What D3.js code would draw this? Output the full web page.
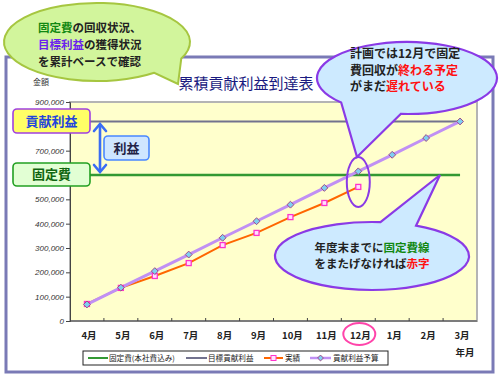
<!DOCTYPE html>
<html><head><meta charset="utf-8">
<script src="https://cdn.jsdelivr.net/npm/d3@7"></script>
<style>body{margin:0;background:#fff}svg{display:block}</style>
</head><body>
<script>
const months = ["4月","5月","6月","7月","8月","9月","10月","11月","12月","1月","2月","3月"];
const fixedCost = [600000,600000,600000,600000,600000,600000,600000,600000,600000,600000,600000,600000];
const targetProfit = [820000,820000,820000,820000,820000,820000,820000,820000,820000,820000,820000,820000];
const actual = [70000,136000,185000,238000,312000,362000,427000,485000,551000];
const budget = [68000,137000,205000,273000,342000,410000,478000,547000,615000,683000,752000,820000];
const yTicks = [0,100000,200000,300000,400000,500000,600000,700000,800000,900000];
const yTicksCovered = [600000,800000]; // labels hidden behind the annotation boxes in the original
const legendLabels = ["固定費(本社費込み)","目標貢献利益","実績","貢献利益予算"];

const W=500,H=382;
const JP = "'Noto Sans CJK JP','Noto Sans CJK SC',sans-serif";
const svg = d3.select("body").append("svg").attr("width",W).attr("height",H);

// outer frame
svg.append("rect").attr("x",6).attr("y",57).attr("width",487).attr("height",315)
  .attr("fill","#fff").attr("stroke","#7a7ab6").attr("stroke-width",3);

const x = d3.scaleBand().domain(months).range([70,477]).padding(0);
const cx = d => x(d)+x.bandwidth()/2;
const y = d3.scaleLinear().domain([0,900000]).range([321,102]);

// title
svg.append("text").attr("x",246).attr("y",89).attr("text-anchor","middle")
  .attr("font-family",JP).attr("font-size",15).attr("fill","#1a1a80").text("累積貢献利益到達表");
svg.append("text").attr("x",33).attr("y",85).attr("font-family",JP).attr("font-size",8).attr("fill","#333").text("金額");

// plot area
svg.append("rect").attr("x",70).attr("y",102).attr("width",407).attr("height",219)
  .attr("fill","#ffffcc").attr("stroke","#b4b4b4").attr("stroke-width",2);

// y axis
const ya = svg.append("g").attr("transform","translate(70,0)")
  .call(d3.axisLeft(y).tickValues(yTicks).tickSize(4)
    .tickFormat(d => yTicksCovered.includes(d) ? "" : d3.format(",")(d)));
ya.select(".domain").attr("stroke","#444");
ya.selectAll("line").attr("stroke","#444");
ya.selectAll("text").attr("font-family","'Liberation Sans',Arial,sans-serif").attr("font-style","italic")
  .attr("font-size",8).attr("fill","#333").attr("x",-6);

// x axis
const xa = svg.append("g").attr("transform","translate(0,321)");
xa.append("line").attr("x1",70).attr("x2",477).attr("stroke","#444").attr("stroke-width",1.2);
xa.selectAll("line.t").data(months.slice(1)).enter().append("line")
  .attr("x1",d=>x(d)).attr("x2",d=>x(d)).attr("y1",0).attr("y2",-3).attr("stroke","#444");
xa.selectAll("text").data(months).enter().append("text")
  .attr("x",d=>cx(d)+2).attr("y",18).attr("text-anchor","middle")
  .attr("font-family",JP).attr("font-size",9.5).attr("font-weight","bold").attr("fill","#222")
  .text(d=>d);
svg.append("text").attr("x",465).attr("y",356).attr("text-anchor","middle")
  .attr("font-family",JP).attr("font-size",9.5).attr("font-weight","bold").attr("fill","#222").text("年月");

const line = d3.line().x((d,i)=>cx(months[i])).y(d=>y(d));
svg.append("path").attr("d",line(fixedCost)).attr("fill","none").attr("stroke","#339933").attr("stroke-width",2.5);
svg.append("path").attr("d",line(targetProfit)).attr("fill","none").attr("stroke","#72728e").attr("stroke-width",2);
svg.append("path").attr("d",line(actual)).attr("fill","none").attr("stroke","#ff6600").attr("stroke-width",2);
svg.append("path").attr("d",line(budget)).attr("fill","none").attr("stroke","#c090f4").attr("stroke-width",3);

svg.selectAll("rect.act").data(actual).enter().append("rect")
  .attr("x",(d,i)=>cx(months[i])-2.5).attr("y",d=>y(d)-2.5).attr("width",5).attr("height",5)
  .attr("fill","#ffe0ff").attr("stroke","#ff33cc").attr("stroke-width",1.3);
const diamond = d3.symbol().type(d3.symbolDiamond2).size(30);
svg.selectAll("path.bud").data(budget).enter().append("path")
  .attr("d",diamond).attr("transform",(d,i)=>`translate(${cx(months[i])},${y(d)})`)
  .attr("fill","#80cff0").attr("stroke","#a04a8a").attr("stroke-width",1);

// legend
const lg = svg.append("g");
lg.append("rect").attr("x",83).attr("y",351).attr("width",305).attr("height",14).attr("fill","#fff").attr("stroke","#222");
const lgItems = [
  {x1:88,x2:108,tx:109,color:"#339933",w:2,m:null},
  {x1:186,x2:207,tx:208,color:"#72728e",w:2,m:null},
  {x1:264,x2:283,tx:285,color:"#ff6600",w:2,m:"sq"},
  {x1:310,x2:331,tx:333,color:"#c090f4",w:2.5,m:"di"}
];
lgItems.forEach((it,i)=>{
  lg.append("line").attr("x1",it.x1).attr("x2",it.x2).attr("y1",358).attr("y2",358).attr("stroke",it.color).attr("stroke-width",it.w);
  const mx=(it.x1+it.x2)/2;
  if(it.m==="sq") lg.append("rect").attr("x",mx-2.5).attr("y",355.5).attr("width",5).attr("height",5).attr("fill","#ffe0ff").attr("stroke","#ff33cc");
  if(it.m==="di") lg.append("path").attr("d",d3.symbol().type(d3.symbolDiamond2).size(22)).attr("transform",`translate(${mx},358)`).attr("fill","#80cff0").attr("stroke","#a04a8a");
  lg.append("text").attr("x",it.tx).attr("y",361).attr("font-family",JP).attr("font-size",7.6).attr("fill","#222").text(legendLabels[i]);
});

// left labels
function box(x0,y0,w,h,fill,stroke,text,color){
  svg.append("rect").attr("x",x0).attr("y",y0).attr("width",w).attr("height",h).attr("rx",4)
    .attr("fill",fill).attr("stroke",stroke).attr("stroke-width",1.6);
  svg.append("text").attr("x",x0+w/2).attr("y",y0+h/2+4.5).attr("text-anchor","middle")
    .attr("font-family",JP).attr("font-weight","bold").attr("font-size",13).attr("fill",color).text(text);
}
box(13,109,77,24,"#ffff66","#a040e0","貢献利益","#2244dd");
box(13,163,77,23,"#e2ffd4","#22a022","固定費","#116611");
// double arrow
const ar = svg.append("g").attr("stroke","#3a6cf4").attr("stroke-width",2.6).attr("fill","none").attr("stroke-linecap","round");
ar.append("line").attr("x1",100).attr("x2",100).attr("y1",125).attr("y2",171);
ar.append("path").attr("d","M94,131 L100,124 L106,131");
ar.append("path").attr("d","M94,165 L100,172 L106,165");
box(104,136,45,24,"#cfe6ff","#4a88ff","利益","#222244");

// callouts
function callout(c){
  const p=a=>[c.cx+c.rx*Math.cos(a*Math.PI/180), c.cy+c.ry*Math.sin(a*Math.PI/180)];
  const p1=p(c.a1), p2=p(c.a2);
  const d=`M${p1[0]},${p1[1]} L${c.tip[0]},${c.tip[1]} L${p2[0]},${p2[1]} A${c.rx},${c.ry} 0 1 1 ${p1[0]},${p1[1]} Z`;
  svg.append("path").attr("d",d).attr("fill",c.fill).attr("stroke",c.stroke).attr("stroke-width",c.sw).attr("stroke-linejoin","miter");
}
function lines(x0,ys,anchor,parts,size){
  parts.forEach((ps,i)=>{
    const t=svg.append("text").attr("x",x0).attr("y",ys[i]).attr("text-anchor",anchor)
      .attr("font-family",JP).attr("font-weight","bold").attr("font-size",size);
    ps.forEach(q=>t.append("tspan").attr("fill",q[1]).text(q[0]));
  });
}
callout({cx:97,cy:42,rx:93,ry:39,a1:25,a2:52,tip:[178,84],fill:"#d2f59c",stroke:"#a6c640",sw:2});
lines(38,[32,49,66],"start",[
  [["固定費","#118811"],["の回収状況、","#222"]],
  [["目標利益","#6a22ee"],["の獲得状況","#222"]],
  [["を累計ベースで確認","#222"]]
],11.5);

callout({cx:407,cy:78,rx:90,ry:36,a1:94,a2:137,tip:[357,157],fill:"#cdeaff",stroke:"#8a3ae6",sw:2.2});
lines(350,[58,75,91],"start",[
  [["計画では12月で固定","#222"]],
  [["費回収が","#222"],["終わる予定","#ff1111"]],
  [["がまだ","#222"],["遅れている","#ff1111"]]
],12);

// ellipse around Dec points
svg.append("ellipse").attr("cx",cx("12月")).attr("cy",182).attr("rx",11.5).attr("ry",25)
  .attr("fill","none").attr("stroke","#8a3ae6").attr("stroke-width",2);

callout({cx:372,cy:256,rx:97,ry:34,a1:-85,a2:-63,tip:[440,175],fill:"#cdeaff",stroke:"#8a3ae6",sw:2.2});
lines(372,[252,268],"middle",[
  [["年度末までに","#222"],["固定費線","#118811"]],
  [["をまたげなければ","#222"],["赤字","#ff1111"]]
],11.5);

// circle around 12月 label
svg.append("ellipse").attr("cx",cx("12月")+1).attr("cy",334).attr("rx",16).attr("ry",11)
  .attr("fill","none").attr("stroke","#ff44aa").attr("stroke-width",2);
</script>
</body></html>
